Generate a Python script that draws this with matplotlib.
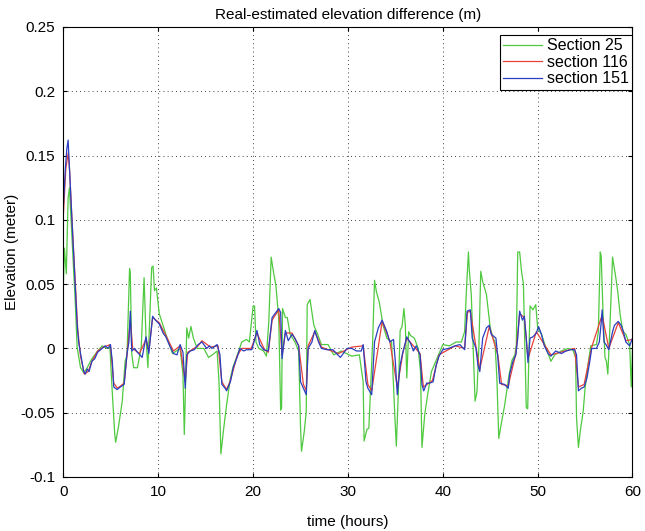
import matplotlib
matplotlib.use("Agg")
import matplotlib.pyplot as plt
import numpy as np
from matplotlib.ticker import FormatStrFormatter

plt.rcParams["font.family"] = ["Liberation Sans", "DejaVu Sans"]
plt.rcParams["axes.unicode_minus"] = False

# (time in hours, elevation difference in m)
sec25 = np.array([
    [0, 0.052], [0.1, 0.078], [0.3, 0.058], [0.49, 0.117], [0.63, 0.125], [0.9, 0.086],
    [1.27, 0.032], [1.44, 0.001], [1.8, -0.015], [2.14, -0.019], [2.5, -0.015], [3.0, -0.008],
    [3.5, -0.003], [4.07, 0.002], [4.6, 0.0], [4.9, 0.001], [5.1, -0.028], [5.4, -0.066],
    [5.5, -0.073], [5.8, -0.061], [6.2, -0.041], [6.5, -0.01], [6.7, -0.005], [6.97, 0.062],
    [7.05, 0.058], [7.2, -0.004], [7.4, -0.015], [7.8, -0.015], [8.2, 0.001], [8.5, 0.055],
    [8.7, 0.009], [8.9, -0.015], [9.3, 0.063], [9.45, 0.064], [9.6, 0.045], [9.8, 0.047],
    [10.1, 0.027], [10.8, 0.011], [11.5, -0.004], [12.3, 0.0], [12.6, -0.02], [12.74, -0.067],
    [12.84, -0.039], [13.0, 0.016], [13.2, 0.008], [13.44, 0.017], [13.7, 0.008], [14.1, 0.0],
    [14.8, 0.0], [15.3, -0.007], [15.7, -0.005], [16.2, -0.002], [16.4, -0.026], [16.6, -0.082],
    [16.9, -0.062], [17.2, -0.044], [17.6, -0.023], [17.9, -0.014], [18.3, -0.006], [18.8, 0.005],
    [19.3, 0.007], [19.6, 0.005], [20.0, 0.033], [20.15, 0.033], [20.3, 0.005], [20.6, 0.0],
    [21.1, -0.002], [21.4, -0.006], [21.65, 0.021], [21.9, 0.071], [22.2, 0.057], [22.4, 0.049],
    [22.7, 0.023], [22.9, -0.048], [23.0, -0.046], [23.1, 0.031], [23.4, 0.024], [23.6, 0.024],
    [23.9, 0.011], [24.4, 0.005], [24.8, -0.002], [25.0, -0.062], [25.1, -0.080], [25.4, -0.064],
    [25.6, -0.049], [25.7, 0.034], [26.0, 0.038], [26.4, 0.018], [26.8, 0.011], [27.2, 0.003],
    [27.9, 0.003], [28.5, -0.005], [29.3, -0.002], [30.4, -0.006], [31.2, -0.005], [31.6, -0.026],
    [31.7, -0.072], [32.0, -0.063], [32.2, -0.062], [32.6, 0.005], [32.8, 0.053], [33.0, 0.044],
    [33.3, 0.036], [33.7, 0.018], [34.1, 0.008], [34.6, 0.005], [34.95, -0.054], [35.1, -0.076],
    [35.3, -0.036], [35.5, 0.014], [35.7, 0.017], [35.9, 0.031], [36.05, 0.018], [36.2, -0.023],
    [36.4, 0.013], [36.6, 0.010], [37.0, 0.008], [37.4, 0.0], [37.65, -0.018], [37.8, -0.077],
    [38.1, -0.051], [38.4, -0.036], [38.8, -0.018], [39.2, -0.011], [39.6, -0.004], [40.0, 0.003],
    [40.7, 0.002], [41.4, 0.005], [41.96, 0.005], [42.3, 0.013], [42.5, 0.047], [42.7, 0.075],
    [42.8, 0.06], [43.0, 0.042], [43.2, 0.0], [43.4, -0.041], [43.6, -0.034], [43.8, 0.0],
    [44.0, 0.060], [44.2, 0.052], [44.6, 0.042], [45.0, 0.016], [45.3, 0.008], [45.5, 0.005],
    [45.7, -0.023], [45.9, -0.07], [46.2, -0.057], [46.5, -0.045], [47.0, -0.02], [47.3, -0.009],
    [47.6, -0.005], [47.75, 0.003], [47.9, 0.075], [48.1, 0.075], [48.3, 0.06], [48.5, 0.05],
    [48.7, -0.013], [48.8, -0.046], [48.95, -0.047], [49.05, -0.013], [49.2, 0.033], [49.5, 0.03],
    [49.8, 0.034], [50.0, 0.016], [50.4, 0.011], [50.9, 0.0], [51.4, -0.01], [51.8, -0.005],
    [52.5, -0.002], [53.2, 0.0], [53.7, -0.001], [54.0, -0.007], [54.1, -0.054], [54.3, -0.077],
    [54.5, -0.064], [54.8, -0.049], [55.0, -0.031], [55.3, -0.013], [55.6, 0.002], [56.2, 0.003],
    [56.4, 0.013], [56.6, 0.075], [56.7, 0.072], [56.9, 0.026], [57.1, -0.007], [57.25, -0.010],
    [57.4, -0.02], [57.6, 0.013], [57.9, 0.071], [58.2, 0.057], [58.45, 0.044], [58.7, 0.026],
    [59.0, 0.013], [59.3, 0.011], [59.7, 0.003], [59.87, -0.03], [60.0, 0.0],
])

sec116 = np.array([
    [0, 0.105], [0.25, 0.14], [0.5, 0.152], [0.65, 0.138], [0.9, 0.1], [1.27, 0.048],
    [1.5, 0.015], [1.8, -0.006], [2.2, -0.02], [2.6, -0.018], [3.0, -0.01], [3.6, -0.002],
    [4.2, 0.001], [4.95, 0.003], [5.3, -0.027], [5.7, -0.031], [6.4, -0.027], [6.7, -0.005],
    [7.05, 0.022], [7.3, 0.0], [8.0, -0.004], [8.7, 0.007], [9.0, -0.002], [9.4, 0.024],
    [10.1, 0.02], [10.8, 0.01], [11.6, -0.002], [12.3, 0.002], [12.84, -0.026], [13.1, -0.003],
    [14.2, 0.002], [14.6, 0.006], [15.5, 0.001], [16.3, 0.002], [16.7, -0.026], [17.2, -0.032],
    [17.6, -0.025], [18.3, -0.006], [18.8, 0.0], [19.8, 0.0], [20.4, 0.012], [21.2, -0.001],
    [21.6, -0.003], [22.0, 0.022], [22.7, 0.03], [23.05, -0.005], [23.4, 0.012], [24.1, 0.012],
    [24.8, 0.002], [25.3, -0.028], [25.6, -0.033], [25.8, 0.002], [26.5, 0.013], [27.2, 0.001],
    [29.0, -0.004], [30.4, 0.001], [31.6, 0.002], [32.1, -0.028], [32.5, -0.033], [33.6, 0.021],
    [34.4, 0.006], [35.2, -0.03], [35.8, -0.003], [36.2, 0.008], [37.6, -0.004], [37.95, -0.03],
    [38.9, -0.025], [39.6, -0.005], [41.3, 0.002], [42.3, 0.0], [42.6, 0.028], [42.9, 0.029],
    [43.5, 0.001], [43.9, -0.016], [44.9, 0.017], [45.8, -0.005], [46.2, -0.028], [46.9, -0.029],
    [47.7, -0.004], [48.1, 0.027], [48.6, 0.024], [48.98, -0.008], [49.86, 0.013], [50.7, 0.003],
    [51.4, -0.005], [53.9, 0.0], [54.3, -0.03], [54.9, -0.028], [55.7, 0.001], [56.8, 0.026],
    [57.5, 0.0], [58.5, 0.02], [59.3, 0.006], [60.0, 0.007],
])

sec151 = np.array([
    [0, 0.112], [0.2, 0.14], [0.35, 0.155], [0.49, 0.162], [0.6, 0.145], [0.9, 0.099],
    [1.1, 0.07], [1.27, 0.047], [1.44, 0.019], [1.6, 0.005], [1.8, -0.004], [2.0, -0.012],
    [2.14, -0.018], [2.3, -0.02], [2.5, -0.016], [2.7, -0.018], [3.0, -0.010], [3.3, -0.008],
    [3.6, -0.003], [4.07, 0.0], [4.4, 0.002], [4.7, 0.0], [4.95, 0.003], [5.15, -0.01],
    [5.3, -0.030], [5.65, -0.032], [6.0, -0.030], [6.4, -0.028], [6.7, -0.004], [6.9, 0.005],
    [7.05, 0.029], [7.2, -0.002], [7.5, 0.0], [7.8, -0.003], [8.3, -0.007], [8.7, 0.009],
    [9.0, -0.004], [9.4, 0.025], [9.7, 0.022], [10.1, 0.019], [10.5, 0.012], [10.8, 0.009],
    [11.2, 0.002], [11.6, -0.004], [11.97, -0.005], [12.3, 0.003], [12.6, -0.003], [12.84, -0.031],
    [13.0, -0.005], [13.37, -0.002], [13.8, -0.001], [14.2, 0.003], [14.6, 0.005], [15.1, 0.0],
    [15.4, 0.002], [15.66, 0.0], [16.2, 0.003], [16.5, -0.005], [16.7, -0.028], [17.05, -0.031],
    [17.2, -0.033], [17.6, -0.026], [17.9, -0.015], [18.3, -0.007], [18.6, 0.0], [19.0, -0.002],
    [19.3, -0.001], [19.86, -0.001], [20.2, 0.008], [20.4, 0.014], [20.7, 0.003], [21.1, -0.001],
    [21.6, -0.002], [22.0, 0.024], [22.3, 0.027], [22.7, 0.031], [22.9, 0.028], [23.05, -0.008],
    [23.4, 0.014], [23.7, 0.006], [24.1, 0.011], [24.4, 0.008], [24.8, 0.002], [25.0, -0.026],
    [25.3, -0.031], [25.6, -0.036], [25.8, 0.0], [26.2, 0.005], [26.5, 0.014], [26.9, 0.005],
    [27.2, 0.0], [27.8, -0.001], [28.4, -0.001], [29.2, -0.007], [29.9, 0.0], [30.4, 0.0],
    [30.9, -0.002], [31.4, -0.002], [31.6, 0.003], [31.9, -0.026], [32.1, -0.031], [32.5, -0.036],
    [32.8, 0.005], [33.2, 0.016], [33.6, 0.022], [34.1, 0.013], [34.4, 0.005], [34.8, 0.007],
    [35.0, -0.011], [35.2, -0.036], [35.5, -0.013], [35.75, -0.004], [36.0, 0.003], [36.2, 0.009],
    [36.6, 0.004], [36.9, -0.002], [37.2, 0.002], [37.6, -0.005], [37.8, -0.028], [37.99, -0.033],
    [38.3, -0.027], [38.6, -0.027], [38.98, -0.026], [39.3, -0.013], [39.6, -0.006], [40.0, -0.001],
    [40.6, 0.0], [41.3, 0.002], [41.8, 0.003], [42.3, -0.001], [42.56, 0.029], [42.9, 0.030],
    [43.1, 0.008], [43.5, 0.0], [43.7, -0.013], [43.9, -0.018], [44.2, 0.008], [44.6, 0.016],
    [44.9, 0.018], [45.1, 0.011], [45.6, 0.008], [45.8, -0.007], [46.0, -0.027], [46.5, -0.028],
    [46.9, -0.031], [47.05, -0.02], [47.4, -0.01], [47.7, -0.005], [47.9, 0.008], [48.1, 0.029],
    [48.4, 0.022], [48.6, 0.025], [48.8, 0.008], [48.98, -0.011], [49.2, 0.008], [49.5, 0.009],
    [49.86, 0.012], [50.1, 0.017], [50.4, 0.011], [50.7, 0.002], [51.1, -0.004], [51.4, -0.006],
    [51.9, -0.002], [52.5, -0.004], [53.0, -0.002], [53.5, -0.001], [53.9, -0.001], [54.1, -0.005],
    [54.3, -0.033], [54.6, -0.031], [54.9, -0.030], [55.2, -0.023], [55.5, -0.010], [55.7, 0.0],
    [56.2, 0.0], [56.5, 0.005], [56.7, 0.020], [56.8, 0.030], [57.0, 0.005], [57.2, 0.003],
    [57.5, -0.001], [57.9, 0.013], [58.1, 0.018], [58.5, 0.021], [58.8, 0.018], [59.05, 0.013],
    [59.3, 0.005], [59.7, 0.002], [60.0, 0.008],
])

labels = ["Section 25", "section 116", "section 151"]
colors = ["#4fc93f", "#e8413a", "#2a3fc0"]
xticks = [0, 10, 20, 30, 40, 50, 60]
yticks = [-0.1, -0.05, 0, 0.05, 0.1, 0.15, 0.2, 0.25]

fig = plt.figure(figsize=(6.45, 5.31), dpi=100)
ax = fig.add_axes([0.0984, 0.1017, 0.8822, 0.8475])

for d, lab, c in zip([sec25, sec116, sec151], labels, colors):
    ax.plot(d[:, 0], d[:, 1], color=c, lw=0.9, label=lab)

ax.set_xlim(0, 60)
ax.set_ylim(-0.1, 0.25)
ax.set_xticks(xticks)
ax.set_yticks(yticks)
ax.yaxis.set_major_formatter(FormatStrFormatter("%g"))
ax.grid(True, color="black", linestyle=(0, (1, 4)), linewidth=0.6)
ax.tick_params(direction="in", top=True, right=True, labelsize=11, length=3, pad=6)
for s in ax.spines.values():
    s.set_linewidth(0.8)

ax.set_title("Real-estimated elevation difference (m)", fontsize=11, pad=6)
ax.set_xlabel("time (hours)", fontsize=11, labelpad=11)
ax.set_ylabel("Elevation (meter)", fontsize=11, labelpad=1)

leg = ax.legend(loc="upper right", bbox_to_anchor=(1.0, 1 - 8 / 450), fontsize=11.5,
                fancybox=False, framealpha=1, edgecolor="black", handlelength=2.4,
                borderaxespad=0, labelspacing=0.1, handletextpad=0.35, borderpad=0.2)
leg.get_frame().set_linewidth(0.8)

fig.savefig("out.png", dpi=100)
plt.close(fig)
